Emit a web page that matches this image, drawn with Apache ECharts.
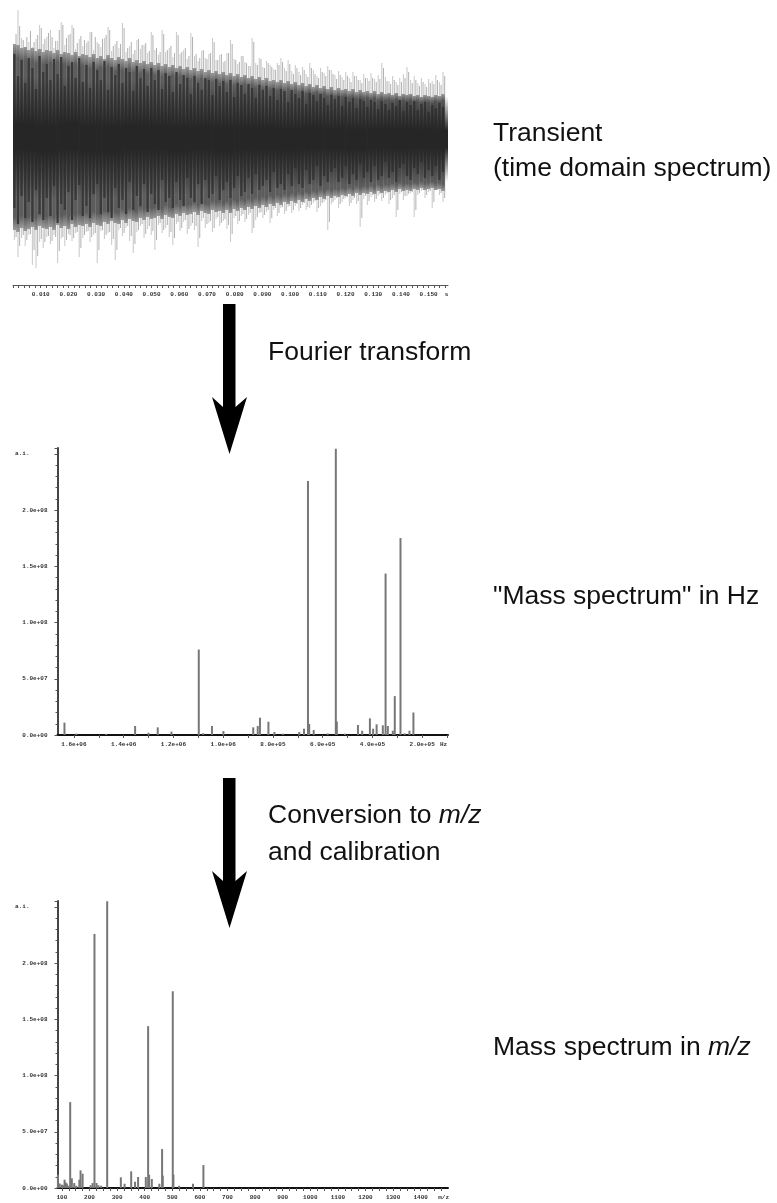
<!DOCTYPE html>
<html lang="en">
  <head>
    <meta charset="UTF-8" />
    <title>Transient to mass spectrum</title>
    <style>
      body {
        margin: 0;
        background: #fff;
      }
      #main {
        width: 777px;
        height: 1203px;
        filter: blur(0.5px);
      }
    </style>
  </head>
  <body>
    <div id="main"></div>
    <script src="https://cdn.jsdelivr.net/npm/echarts@6/dist/echarts.min.js"></script>
    <script>
      // transient (seconds, amplitude)
      const times = [
        0.0005, 0.0018, 0.0031, 0.0044, 0.0057, 0.007, 0.0083, 0.0096, 0.0109, 0.0122,
        0.0135, 0.0148, 0.0161, 0.0174, 0.0187, 0.02, 0.0213, 0.0226, 0.0239, 0.0252,
        0.0265, 0.0278, 0.0291, 0.0304, 0.0317, 0.033, 0.0343, 0.0356, 0.0369, 0.0382,
        0.0395, 0.0408, 0.0421, 0.0434, 0.0447, 0.046, 0.0473, 0.0486, 0.0499, 0.0512,
        0.0525, 0.0538, 0.0551, 0.0564, 0.0577, 0.059, 0.0603, 0.0616, 0.0629, 0.0642,
        0.0655, 0.0668, 0.0681, 0.0694, 0.0707, 0.072, 0.0733, 0.0746, 0.0759, 0.0772,
        0.0785, 0.0798, 0.0811, 0.0824, 0.0837, 0.085, 0.0863, 0.0876, 0.0889, 0.0902,
        0.0915, 0.0928, 0.0941, 0.0954, 0.0967, 0.098, 0.0993, 0.1006, 0.1019, 0.1032,
        0.1045, 0.1058, 0.1071, 0.1084, 0.1097, 0.111, 0.1123, 0.1136, 0.1149, 0.1162,
        0.1175, 0.1188, 0.1201, 0.1214, 0.1227, 0.124, 0.1253, 0.1266, 0.1279, 0.1292,
        0.1305, 0.1318, 0.1331, 0.1344, 0.1357, 0.137, 0.1383, 0.1396, 0.1409, 0.1422,
        0.1435, 0.1448, 0.1461, 0.1474, 0.1487, 0.15, 0.1513, 0.1526, 0.1539, 0.1552,
      ];
      const spikeUp = [
        92, 128, 100, 88, 96, 91, 99, 113, 94, 101, 108, 90, 97, 116, 93, 103, 113, 89, 99, 92,
        95, 106, 88, 96, 91, 100, 111, 87, 94, 90, 115, 86, 92, 84, 98, 89, 93, 85, 106, 88,
        83, 108, 86, 90, 81, 106, 84, 88, 79, 105, 82, 77, 87, 80, 84, 100, 78, 83, 76, 85,
        98, 79, 74, 82, 76, 72, 100, 75, 80, 71, 77, 73, 69, 75, 80, 70, 78, 67, 73, 66,
        71, 64, 75, 68, 62, 70, 65, 72, 68, 63, 67, 61, 66, 60, 66, 62, 58, 64, 60, 65,
        59, 63, 75, 61, 57, 62, 56, 60, 64, 71, 58, 62, 55, 60, 54, 59, 57, 63, 56, 66,
      ];
      const spikeDown = [
        102, 119, 100, 108, 97, 127, 130, 104, 110, 99, 106, 97, 125, 101, 108, 96, 103, 95, 119, 100,
        94, 104, 97, 125, 93, 101, 95, 107, 122, 92, 98, 90, 103, 115, 94, 88, 100, 91, 97, 112,
        87, 95, 90, 99, 107, 86, 93, 84, 96, 88, 92, 109, 83, 90, 85, 94, 81, 88, 83, 91,
        104, 80, 86, 78, 84, 77, 95, 82, 75, 80, 74, 85, 72, 78, 70, 76, 69, 75, 68, 73,
        67, 72, 70, 65, 74, 68, 64, 92, 66, 62, 70, 64, 60, 68, 62, 66, 89, 61, 67, 59,
        64, 58, 63, 57, 66, 60, 79, 56, 62, 58, 55, 79, 57, 53, 60, 54, 70, 52, 57, 64,
      ];
      const haloUp = [
        104, 112, 98, 101, 107, 96, 103, 110, 99, 105, 101, 97, 108, 113, 100, 104, 110, 95, 102, 98,
        97, 106, 101, 94, 99, 103, 108, 92, 97, 94, 110, 90, 96, 88, 99, 93, 95, 87, 103, 90,
        86, 104, 88, 92, 85, 103, 86, 90, 82, 101, 84, 80, 88, 79, 85, 96, 78, 84, 77, 85,
        94, 78, 76, 82, 75, 72, 96, 73, 79, 70, 75, 71, 68, 73, 76, 67, 74, 64, 70, 63,
        68, 61, 70, 64, 60, 66, 62, 68, 64, 59, 63, 58, 62, 56, 62, 58, 55, 60, 57, 60,
        56, 59, 70, 57, 54, 58, 53, 56, 60, 66, 55, 58, 52, 56, 51, 55, 54, 58, 53, 62,
      ];
      const haloDown = [
        99, 108, 97, 102, 96, 112, 118, 101, 104, 98, 103, 99, 113, 99, 102, 97, 100, 94, 110, 97,
        93, 99, 95, 112, 92, 97, 94, 101, 112, 90, 95, 88, 98, 106, 92, 86, 96, 88, 93, 102,
        85, 92, 87, 94, 100, 84, 90, 82, 91, 85, 88, 100, 80, 86, 83, 90, 79, 85, 81, 87,
        96, 78, 83, 76, 81, 75, 90, 79, 74, 77, 72, 80, 70, 75, 69, 73, 68, 72, 66, 70,
        65, 69, 67, 63, 70, 65, 62, 84, 64, 60, 66, 61, 59, 65, 60, 63, 80, 58, 63, 57,
        61, 56, 60, 55, 62, 57, 72, 54, 58, 56, 54, 72, 55, 52, 57, 53, 64, 51, 55, 60,
      ];
      const bandUp = [
        94, 93, 90, 91, 88, 90, 87, 89, 86, 88, 87, 85, 88, 84, 86, 85, 83, 86, 82, 84,
        83, 81, 84, 80, 82, 79, 83, 80, 78, 81, 79, 77, 80, 76, 78, 75, 77, 74, 76, 73,
        75, 72, 74, 71, 73, 70, 72, 69, 71, 68, 70, 67, 69, 66, 68, 65, 67, 64, 66, 63,
        65, 62, 64, 61, 63, 60, 62, 59, 61, 58, 60, 57, 58, 56, 58, 55, 57, 54, 56, 53,
        55, 52, 54, 51, 53, 50, 52, 49, 51, 48, 50, 48, 49, 47, 49, 46, 48, 46, 47, 45,
        47, 44, 46, 44, 45, 43, 45, 42, 44, 43, 44, 42, 43, 41, 43, 42, 41, 43, 42, 44,
      ];
      const bandDown = [
        92, 94, 90, 93, 91, 89, 92, 88, 90, 91, 89, 92, 87, 90, 88, 91, 86, 89, 87, 88,
        86, 89, 85, 87, 88, 84, 86, 83, 85, 86, 82, 85, 81, 83, 84, 80, 82, 79, 81, 80,
        78, 81, 77, 79, 80, 76, 78, 75, 77, 76, 74, 77, 73, 75, 76, 72, 74, 73, 75, 72,
        75, 71, 73, 70, 72, 69, 71, 68, 70, 67, 69, 66, 68, 65, 67, 64, 66, 63, 65, 62,
        64, 61, 63, 60, 62, 59, 61, 58, 60, 58, 59, 57, 58, 56, 58, 55, 57, 55, 56, 54,
        56, 53, 55, 53, 54, 52, 54, 51, 53, 52, 53, 51, 52, 50, 52, 51, 50, 52, 51, 53,
      ];
      const innerUp = [
        84, 62, 78, 55, 80, 70, 49, 82, 66, 74, 58, 79, 64, 81, 52, 72, 76, 60, 80, 56,
        73, 50, 76, 68, 58, 77, 48, 71, 63, 74, 55, 70, 66, 47, 72, 60, 69, 52, 70, 58,
        68, 49, 65, 62, 46, 66, 54, 63, 60, 44, 62, 55, 48, 60, 58, 43, 59, 52, 57, 46,
        58, 41, 55, 53, 44, 54, 50, 40, 53, 48, 52, 42, 50, 38, 49, 47, 36, 48, 44, 40,
        47, 34, 45, 43, 37, 44, 40, 33, 43, 39, 42, 32, 41, 36, 40, 30, 39, 37, 31, 38,
        36, 29, 37, 34, 28, 35, 32, 38, 27, 36, 33, 37, 28, 34, 36, 26, 33, 30, 35, 31,
      ];
      const innerDown = [
        70, 86, 58, 80, 64, 84, 52, 76, 82, 60, 78, 48, 85, 66, 72, 54, 82, 62, 47, 78,
        68, 80, 56, 46, 76, 60, 74, 80, 50, 70, 62, 76, 44, 72, 58, 68, 46, 74, 56, 66,
        72, 42, 64, 60, 70, 44, 62, 68, 40, 60, 64, 46, 66, 42, 60, 56, 38, 62, 52, 44,
        60, 50, 38, 58, 54, 40, 56, 36, 52, 48, 42, 54, 34, 50, 46, 52, 36, 48, 30, 46,
        50, 32, 46, 42, 28, 48, 38, 44, 34, 30, 44, 40, 28, 46, 36, 42, 26, 40, 34, 44,
        28, 42, 38, 24, 40, 34, 44, 30, 26, 38, 42, 30, 36, 24, 40, 32, 38, 28, 42, 34,
      ];
      const coreTimes = [
        0.004, 0.012, 0.02, 0.028, 0.036, 0.044, 0.052, 0.06, 0.068, 0.076,
        0.084, 0.092, 0.1, 0.108, 0.116, 0.124, 0.132, 0.14, 0.148, 0.156,
      ];
      const coreUp = [62, 60, 62, 58, 57, 58, 56, 55, 54, 53, 52, 50, 48, 49, 46, 45, 44, 45, 43, 42];
      const coreDown = [60, 62, 58, 60, 60, 57, 56, 57, 54, 56, 53, 51, 52, 49, 47, 48, 45, 46, 44, 44];

      // "mass spectrum" in Hz
      const hzPeaks = [
        1.638e6, 1.59e6, 1.47e6, 1.354e6, 1.3e6, 1.263e6, 1.208e6, 1.098e6, 1.08e6, 1.045e6, 9.99e5, 8.79e5, 8.61e5, 8.52e5,
        8.18e5, 7.94e5, 7.6e5, 6.94e5, 6.75e5, 6.59e5, 6.54e5, 6.36e5, 5.8e5, 5.47e5, 5.43e5, 5.1e5, 4.58e5, 4.41e5,
        4.1e5, 3.97e5, 3.83e5, 3.58e5, 3.47e5, 3.38e5, 3.18e5, 3.1e5, 2.87e5, 2.7e5, 2.51e5, 2.35e5,
      ];
      const hzIntensity = [
        1.1e7, 1.2e6, 1e6, 8e6, 2e6, 6.8e6, 3e6, 7.6e7, 1.6e6, 8e6, 3.5e6, 6.8e6, 8e6, 1.54e7,
        1.18e7, 2.7e6, 1.2e6, 2.7e6, 5.6e6, 2.26e8, 9.8e6, 4.4e6, 1.4e6, 2.546e8, 1.2e7, 1.2e6, 8.9e6, 3.8e6,
        1.48e7, 5.6e6, 9.5e6, 8.6e6, 1.436e8, 8e6, 3.8e6, 3.46e7, 1.752e8, 1.5e6, 3.8e6, 2e7,
      ];

      // mass spectrum in m/z
      const mzPeaks = [
        85.5, 92, 100, 105, 109.6, 113, 118, 124, 130, 136, 144.6, 152, 163, 167.5, 175, 204, 211, 218, 225.5, 232, 242, 264, 313.5, 327,
        351, 365, 376, 404, 412.4, 416, 425.7, 453, 463, 465.5, 501.7, 504, 524.6, 575, 612.7,
      ];
      const mzIntensity = [
        1.18e7, 4e6, 3e6, 2.4e6, 7.4e6, 5e6, 4e6, 2e6, 7.64e7, 8.6e6, 4.4e6, 2e6, 7.4e6, 1.57e7, 1.27e7, 2.5e6, 4.4e6, 2.26e8, 4.4e6, 2.5e6, 2e6, 2.55e8, 9.5e6, 3.8e6,
        1.48e7, 5.6e6, 9.8e6, 9.8e6, 1.44e8, 1.18e7, 8e6, 3.8e6, 3.46e7, 1.1e7, 1.75e8, 1.18e7, 2e6, 3.8e6, 2.04e7,
      ];

      // tick labels
      const yTicks = [0, 5e7, 1e8, 1.5e8, 2e8, 2.5e8];
      const yLabels = ["0.0e+00", "5.0e+07", "1.0e+08", "1.5e+08", "2.0e+08", "a.i.     "];
      const timeTicks = [0.01, 0.02, 0.03, 0.04, 0.05, 0.06, 0.07, 0.08, 0.09, 0.1, 0.11, 0.12, 0.13, 0.14, 0.15, 0.1565];
      const timeLabels = ["0.010", "0.020", "0.030", "0.040", "0.050", "0.060", "0.070", "0.080", "0.090", "0.100", "0.110", "0.120", "0.130", "0.140", "0.150", "s"];
      const hzTicks = [1.6e6, 1.4e6, 1.2e6, 1e6, 8e5, 6e5, 4e5, 2e5, 1.14e5];
      const hzLabels = ["1.6e+06", "1.4e+06", "1.2e+06", "1.0e+06", "8.0e+05", "6.0e+05", "4.0e+05", "2.0e+05", "Hz"];
      const mzTicks = [100, 200, 300, 400, 500, 600, 700, 800, 900, 1000, 1100, 1200, 1300, 1400, 1483];
      const mzLabels = ["100", "200", "300", "400", "500", "600", "700", "800", "900", "1000", "1100", "1200", "1300", "1400", "m/z"];

      const sansFont = "Liberation Sans";
      const monoFont = "Liberation Mono";

      function steps(from, to, step) {
        const out = [];
        for (let v = from; v <= to + step / 2; v += step) out.push(+v.toFixed(4));
        return out;
      }

      // vertical band from value 1 to value 2 at time value 0
      function rangeBar(width, fill) {
        return function (params, api) {
          const a = api.coord([api.value(0), api.value(1)]);
          const b = api.coord([api.value(0), api.value(2)]);
          return {
            type: "rect",
            shape: { x: a[0] - width / 2, y: a[1], width: width, height: b[1] - a[1] },
            style: { fill: fill },
          };
        };
      }

      function bandSeries(xs, up, down, width, fill) {
        return {
          type: "custom",
          xAxisIndex: 0,
          yAxisIndex: 0,
          clip: true,
          renderItem: rangeBar(width, fill),
          encode: { x: 0, y: [1, 2] },
          data: xs.map((t, i) => [t, up[i], -down[i]]),
          silent: true,
        };
      }

      function peakSeries(index, xs, ys) {
        return {
          type: "bar",
          xAxisIndex: index,
          yAxisIndex: index,
          barWidth: 2,
          itemStyle: { color: "#777" },
          data: xs.map((x, i) => [x, ys[i]]),
          silent: true,
        };
      }

      function spectrumY(index) {
        return {
          gridIndex: index,
          type: "value",
          min: 0,
          max: 2.553e8,
          interval: 5e7,
          splitLine: { show: false },
          axisLine: { show: true, lineStyle: { color: "#444", width: 2 } },
          axisTick: { show: true, length: 3, lineStyle: { color: "#555" } },
          minorTick: { show: true, splitNumber: 5, length: 2, lineStyle: { color: "#555" } },
          axisLabel: {
            fontFamily: monoFont,
            fontSize: 6,
            fontWeight: "bold",
            color: "#333",
            margin: 10,
            padding: [4, 0, 0, 0],
            showMaxLabel: false,
            formatter: (v) => {
              const i = yTicks.indexOf(v);
              return i < 0 ? "" : yLabels[i];
            },
          },
        };
      }

      function spectrumX(index, opts) {
        return Object.assign(
          {
            gridIndex: index,
            type: "value",
            splitLine: { show: false },
            axisLine: { show: true, onZero: false, lineStyle: { color: "#111", width: 2 } },
            axisTick: { show: true, length: 3, lineStyle: { color: "#555" }, customValues: opts.ticks },
            axisLabel: {
              fontFamily: monoFont,
              fontSize: 6,
              fontWeight: "bold",
              color: "#333",
              margin: 6,
              customValues: opts.labelValues,
              formatter: (v) => opts.labels[opts.labelValues.indexOf(v)],
            },
          },
          opts.axis
        );
      }

      function caption(x, y, text, rich) {
        return {
          type: "text",
          x: x,
          y: y,
          style: {
            text: text,
            fontFamily: sansFont,
            fontSize: 26.5,
            fill: "#111",
            verticalAlign: "middle",
            rich: rich,
          },
        };
      }

      function arrow(offset) {
        return {
          type: "polygon",
          y: offset,
          shape: {
            points: [
              [223, 304],
              [235.5, 304],
              [235.5, 407],
              [247, 397],
              [229.5, 454],
              [212, 397],
              [223, 407],
            ],
          },
          style: { fill: "#000" },
        };
      }

      const italic = {
        i: { fontFamily: sansFont, fontSize: 26.5, fontStyle: "italic", fill: "#111" },
      };
      // the dense part fades out towards its edges
      const bandFill = new echarts.graphic.LinearGradient(0, 0, 0, 1, [
        { offset: 0, color: "#9a9a9a" },
        { offset: 0.07, color: "#5c5c5c" },
        { offset: 0.93, color: "#5c5c5c" },
        { offset: 1, color: "#9a9a9a" },
      ]);
      const coreFill = new echarts.graphic.LinearGradient(0, 0, 0, 1, [
        { offset: 0, color: "rgba(38,38,38,0)" },
        { offset: 0.4, color: "rgba(38,38,38,1)" },
        { offset: 0.6, color: "rgba(38,38,38,1)" },
        { offset: 1, color: "rgba(38,38,38,0)" },
      ]);
      const haloTimes = times.map((t) => t + 0.0006);

      const myChart = echarts.init(document.getElementById("main"));
      myChart.setOption({
        animation: false,
        backgroundColor: "#fff",
        grid: [
          { left: 13, top: 8, width: 435, height: 277 },
          { left: 57.5, top: 448, width: 390.5, height: 287 },
          { left: 57.5, top: 901, width: 390.5, height: 287 },
        ],
        xAxis: [
          spectrumX(0, {
            ticks: steps(0, 0.156, 0.002),
            labelValues: timeTicks,
            labels: timeLabels,
            axis: {
              min: 0,
              max: 0.157,
              axisLine: { show: true, onZero: false, lineStyle: { color: "#555", width: 1 } },
            },
          }),
          spectrumX(1, {
            ticks: steps(1e5, 1.6e6, 1e5),
            labelValues: hzTicks,
            labels: hzLabels,
            axis: { min: 9.6e4, max: 1.666e6, inverse: true },
          }),
          spectrumX(2, {
            ticks: steps(100, 1475, 25),
            labelValues: mzTicks,
            labels: mzLabels,
            axis: { min: 84, max: 1499 },
          }),
        ],
        yAxis: [
          { gridIndex: 0, type: "value", min: -147, max: 130, show: false, splitLine: { show: false } },
          spectrumY(1),
          spectrumY(2),
        ],
        series: [
          bandSeries(times, spikeUp, spikeDown, 1.1, "#cccccc"),
          bandSeries(haloTimes, haloUp, haloDown, 1, "#b0b0b0"),
          bandSeries(times, bandUp, bandDown, 3.7, bandFill),
          bandSeries(times, innerUp, innerDown, 2.2, "#3a3a3a"),
          bandSeries(coreTimes, coreUp, coreDown, 22.4, coreFill),
          peakSeries(1, hzPeaks, hzIntensity),
          peakSeries(2, mzPeaks, mzIntensity),
        ],
        graphic: [
          arrow(0),
          arrow(474),
          caption(493, 134, "Transient"),
          caption(493, 169, "(time domain spectrum)"),
          caption(268, 353, "Fourier transform"),
          caption(493, 597, '"Mass spectrum" in Hz'),
          caption(268, 816, "Conversion to {i|m/z}", italic),
          caption(268, 853, "and calibration"),
          caption(493, 1048, "Mass spectrum in {i|m/z}", italic),
        ],
      });
    </script>
  </body>
</html>
